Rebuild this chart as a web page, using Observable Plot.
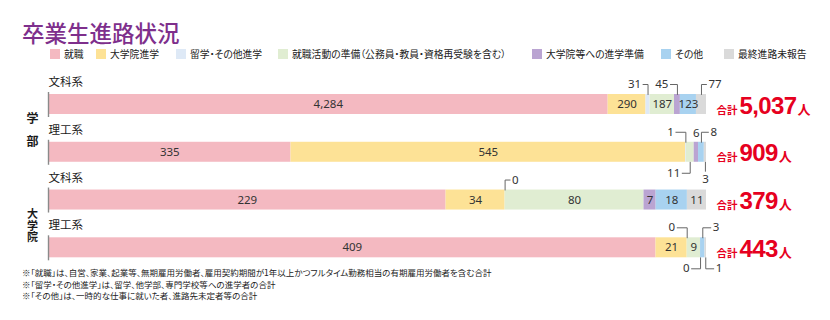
<!DOCTYPE html>
<html><head><meta charset="utf-8">
<script src="https://cdn.jsdelivr.net/npm/d3@7"></script>
<script src="https://cdn.jsdelivr.net/npm/@observablehq/plot@0.6"></script>
<style>
body{margin:0;background:#fff;font-family:"Noto Sans CJK JP",sans-serif;}
#wrap{position:relative;width:830px;height:320px;overflow:hidden;background:#fff;}
#title{position:absolute;left:22px;top:21px;font-size:22.5px;line-height:1;color:#7e2f8c;font-weight:500;white-space:nowrap;}
.lg{position:absolute;top:49px;height:10px;display:flex;align-items:center;font-size:9.8px;line-height:10px;color:#222;white-space:nowrap;font-feature-settings:"palt";}
.lg .sw{display:inline-block;width:10px;height:10px;margin-right:4px;flex:none;}
#chart{position:absolute;left:0;top:70px;}
#notes{position:absolute;left:22px;top:267px;font-size:8.5px;line-height:11.5px;color:#222;font-feature-settings:"palt";z-index:2;white-space:nowrap;}
</style></head>
<body>
<div id="wrap">
  <div id="title">卒業生進路状況</div>
  <div id="legend"></div>
  <div id="chart"></div>
  <div id="notes"></div>
</div>
<script>
// ---------- data ----------
const categories = ["就職", "大学院進学", "留学・その他進学", "就職活動の準備（公務員・教員・資格再受験を含む）", "大学院等への進学準備", "その他", "最終進路未報告"];
const colors = ["#f4b9c1", "#fde296", "#dee9f6", "#e0edd2", "#baa4d2", "#a8d2f0", "#dadada"];
const fieldNames = ["文科系", "理工系", "文科系", "理工系"];
const groupNames = ["学部", "大学院"];
const gakubuBunka    = [4284, 290, 31, 187, 45, 123, 77];
const gakubuRiko     = [335, 545, 1, 11, 6, 8, 3];
const daigakuinBunka = [229, 34, 0, 80, 7, 18, 11];
const daigakuinRiko  = [409, 21, 0, 9, 0, 3, 1];
const totals = [5037, 909, 379, 443];
const footnotes = [
  "※「就職」は、自営、家業、起業等、無期雇用労働者、雇用契約期間が1年以上かつフルタイム勤務相当の有期雇用労働者を含む合計",
  "※「留学・その他進学」は、留学、他学部、専門学校等への進学者の合計",
  "※「その他」は、一時的な仕事に就いた者、進路先未定者等の合計"
];

// ---------- layout ----------
const STEP = 47.77, ROW0 = 34, X0 = 48, X1 = 706, BAR = 20;
const uy = px => px / STEP, ux = px => px / (X1 - X0);
// outside-label layout: [row, category, kind, side(-1 above / 1 below), leader px]
const outsideLayout = [
  [0, 2, "L", -1, 5], [0, 4, "L", -1, 7], [0, 6, "R", -1, 5],
  [1, 2, "L", -1, 10], [1, 3, "L", 1, 8], [1, 4, "T", -1, 0], [1, 5, "R", -1, 7], [1, 6, "V", 1, 0],
  [2, 2, "R", -1, 5],
  [3, 2, "L", -1, 10], [3, 4, "L", 1, 9], [3, 5, "R", -1, 8], [3, 6, "R", 1, 8]
];
const legendX = [50, 96, 176, 278, 532, 661, 724];
// vertical group labels: [centre row position, font size, letter spacing]
const groupLayout = [[0.5, 12, 11.5], [2.5, 11, 0.5]];

// legend
const lg = document.getElementById("legend");
categories.forEach((c, i) => {
  const d = document.createElement("div");
  d.className = "lg"; d.style.left = legendX[i] + "px";
  d.innerHTML = `<span class="sw" style="background:${colors[i]}"></span><span>${c}</span>`;
  lg.appendChild(d);
});
document.getElementById("notes").innerHTML = footnotes.map(f => `<div>${f}</div>`).join("");

// ---------- derived ----------
const rowValues = [gakubuBunka, gakubuRiko, daigakuinBunka, daigakuinRiko];
const segments = [];
rowValues.forEach((vals, r) => {
  const total = d3.sum(vals);
  let acc = 0;
  vals.forEach((v, c) => {
    segments.push({row: r, ci: c, cat: categories[c], value: v, x1: acc / total, x2: (acc + v) / total, mid: (acc + v / 2) / total});
    acc += v;
  });
});
const seg = (r, c) => segments.find(s => s.row === r && s.ci === c);
const outsideKey = new Set(outsideLayout.map(a => a[0] + "-" + a[1]));
const inside = segments.filter(s => !outsideKey.has(s.row + "-" + s.ci));
const fmt = d3.format(",");

const linePts = [], labL = [], labR = [], labC = [];
outsideLayout.forEach(([r, c, kind, side, len], k) => {
  const s = seg(r, c);
  const edge = r + side * uy(BAR / 2);
  const ly = r + side * uy(side < 0 ? 20 : 21);
  const t = fmt(s.value);
  if (kind === "L" || kind === "R") {
    const dir = kind === "L" ? -1 : 1;
    const ex = s.mid + dir * ux(len);
    linePts.push({id: k, x: s.mid, y: edge}, {id: k, x: s.mid, y: ly}, {id: k, x: ex, y: ly});
    (kind === "L" ? labL : labR).push({x: ex, y: ly, text: t});
  } else if (kind === "T") {
    labC.push({x: s.mid, y: r + side * uy(19), text: t});
  } else {
    linePts.push({id: k, x: s.mid, y: edge}, {id: k, x: s.mid, y: r + side * uy(19)});
    labC.push({x: s.mid, y: r + side * uy(27), text: t});
  }
});

const rows = fieldNames.map((f, i) => ({row: i, field: f, label: "合計" + fmt(totals[i]) + "人"}));
const groups = groupNames.map((g, i) => ({label: g, y: groupLayout[i][0] + uy(1.5 + groupLayout[i][2] / 2), fs: groupLayout[i][1], ls: groupLayout[i][2]}));
const numFont = "'Noto Sans', sans-serif";

const chart = Plot.plot({
  width: 830, height: 210, margin: 0,
  x: {domain: [0, 1], range: [X0, X1], axis: null},
  y: {domain: [-0.5, 3.5], range: [ROW0 - STEP / 2, ROW0 + 3.5 * STEP], axis: null},
  color: {domain: categories, range: colors},
  style: {background: "transparent", overflow: "visible", fontFamily: "'Noto Sans CJK JP', sans-serif"},
  marks: [
    Plot.rect(segments, {x1: "x1", x2: "x2", y1: d => d.row - uy(BAR / 2), y2: d => d.row + uy(BAR / 2), fill: "cat"}),
    Plot.ruleX(rows, {x: 0, y1: d => d.row - uy(12), y2: d => d.row + uy(13), stroke: "#8a8a8a", strokeWidth: 1.4}),
    Plot.text(rows, {x: 0, y: d => d.row - uy(22), text: "field", textAnchor: "start", fontSize: 11.5, fill: "#1a1a1a"}),
    Plot.text(groups, {x: 0, dx: -16, y: "y", text: "label", fontWeight: "bold", fill: "#1a1a1a", textAnchor: "middle"}),
    Plot.text(inside, {x: "mid", y: "row", text: d => fmt(d.value), fontSize: 11.5, fill: "#333", fontFamily: numFont}),
    Plot.line(linePts, {x: "x", y: "y", z: "id", stroke: "#666", strokeWidth: 1}),
    Plot.text(labL, {x: "x", y: "y", text: "text", dx: -2, textAnchor: "end", fontSize: 11.5, fill: "#333", fontFamily: numFont}),
    Plot.text(labR, {x: "x", y: "y", text: "text", dx: 2, textAnchor: "start", fontSize: 11.5, fill: "#333", fontFamily: numFont}),
    Plot.text(labC, {x: "x", y: "y", text: "text", textAnchor: "middle", fontSize: 11.5, fill: "#333", fontFamily: numFont}),
    Plot.text(rows, {x: 1, dx: 10, y: d => d.row + uy(9), text: "label", textAnchor: "start", lineAnchor: "bottom", fill: "#e60020", fontWeight: "bold", fontSize: 13})
  ]
});
document.getElementById("chart").appendChild(chart);

chart.querySelectorAll("text").forEach(t => {
  // vertical group labels
  const g = groups.find(d => d.label === t.textContent);
  if (g) {
    t.removeAttribute("y");
    t.style.writingMode = "vertical-rl";
    t.style.textOrientation = "upright";
    t.style.fontSize = g.fs + "px";
    t.style.letterSpacing = g.ls + "px";
    return;
  }
  // styled totals: small 合計, large number, medium 人
  const m = t.textContent.match(/^(合計)([\d,]+)(人)$/);
  if (!m) return;
  t.textContent = "";
  const mk = (txt, size, fam, extra) => {
    const ts = document.createElementNS("http://www.w3.org/2000/svg", "tspan");
    ts.textContent = txt;
    ts.setAttribute("font-size", size);
    ts.setAttribute("font-family", fam);
    if (extra) for (const k in extra) ts.setAttribute(k, extra[k]);
    t.appendChild(ts);
  };
  mk(m[1], 10.5, "'Noto Sans CJK JP', sans-serif");
  mk(m[2], 24, "'Liberation Sans', Arial, sans-serif", {dx: 2, "letter-spacing": "-0.6", "font-weight": "bold"});
  mk(m[3], 13, "'Noto Sans CJK JP', sans-serif", {dx: 1});
});
</script>
</body></html>
